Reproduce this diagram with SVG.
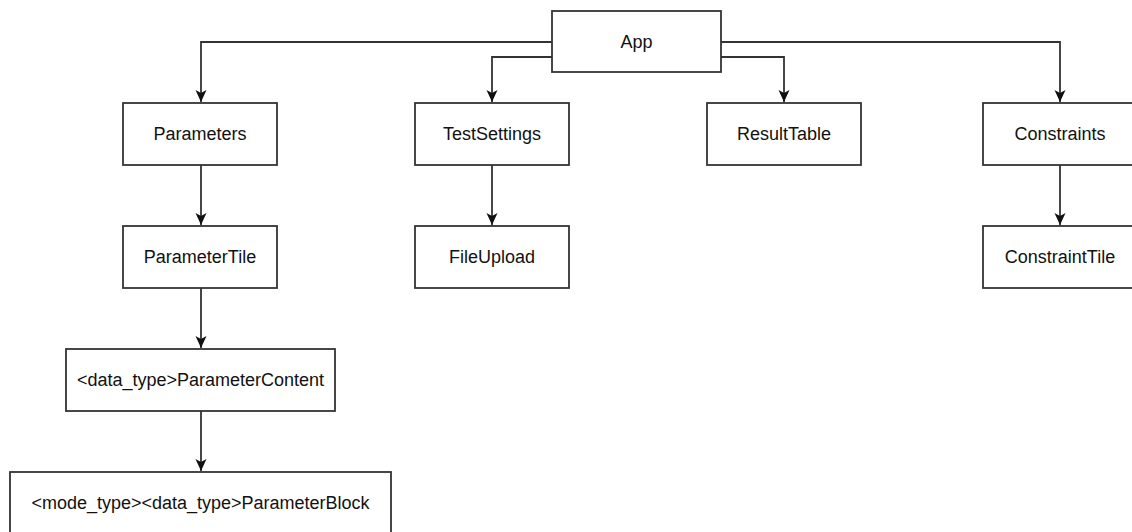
<svg xmlns="http://www.w3.org/2000/svg" width="1132" height="532" viewBox="0 0 1132 532">
  <style>
    .box { fill: #ffffff; stroke: #333333; stroke-width: 1.8; }
    .lbl { font-family: "Liberation Sans", Arial, sans-serif; font-size: 18px; fill: #111111; text-anchor: middle; }
    .edge { fill: none; stroke: #333333; stroke-width: 1.8; marker-end: url(#arrow); }
  </style>
  <defs>
    <marker id="arrow" markerUnits="userSpaceOnUse" markerWidth="14" markerHeight="14" viewBox="0 0 14 14" refX="12" refY="7" orient="auto">
      <path d="M0,1.5 L12,7 L0,12.5 L3,7 Z" fill="#111111"/>
    </marker>
  </defs>
  <rect width="1132" height="532" fill="#ffffff"/>
  <g id="connectors">
    <path class="edge" d="M552,42 H201 V102"/>
    <path class="edge" d="M552,57 H492 V102"/>
    <path class="edge" d="M721,57 H784 V102"/>
    <path class="edge" d="M721,42 H1060 V102"/>
    <path class="edge" d="M201,165 V225"/>
    <path class="edge" d="M201,288 V348"/>
    <path class="edge" d="M201,411 V471"/>
    <path class="edge" d="M492,165 V225"/>
    <path class="edge" d="M1060,165 V225"/>
  </g>
  <g id="app">
    <rect class="box" x="552" y="11" width="169" height="61"/>
    <text class="lbl" x="636.5" y="48">App</text>
  </g>
  <g id="parameters">
    <rect class="box" x="123" y="103" width="154" height="62"/>
    <text class="lbl" x="200" y="140">Parameters</text>
  </g>
  <g id="parameterTile">
    <rect class="box" x="123" y="226" width="154" height="62"/>
    <text class="lbl" x="200" y="263">ParameterTile</text>
  </g>
  <g id="parameterContent">
    <rect class="box" x="66" y="349" width="269" height="62"/>
    <text class="lbl" x="200.5" y="386">&lt;data_type&gt;ParameterContent</text>
  </g>
  <g id="parameterBlock">
    <rect class="box" x="10" y="472" width="381" height="62"/>
    <text class="lbl" x="200.5" y="509">&lt;mode_type&gt;&lt;data_type&gt;ParameterBlock</text>
  </g>
  <g id="testSettings">
    <rect class="box" x="415" y="103" width="154" height="62"/>
    <text class="lbl" x="492" y="140">TestSettings</text>
  </g>
  <g id="fileUpload">
    <rect class="box" x="415" y="226" width="154" height="62"/>
    <text class="lbl" x="492" y="263">FileUpload</text>
  </g>
  <g id="resultTable">
    <rect class="box" x="707" y="103" width="154" height="62"/>
    <text class="lbl" x="784" y="140">ResultTable</text>
  </g>
  <g id="constraints">
    <rect class="box" x="983" y="103" width="154" height="62"/>
    <text class="lbl" x="1060" y="140">Constraints</text>
  </g>
  <g id="constraintTile">
    <rect class="box" x="983" y="226" width="154" height="62"/>
    <text class="lbl" x="1060" y="263">ConstraintTile</text>
  </g>
</svg>
